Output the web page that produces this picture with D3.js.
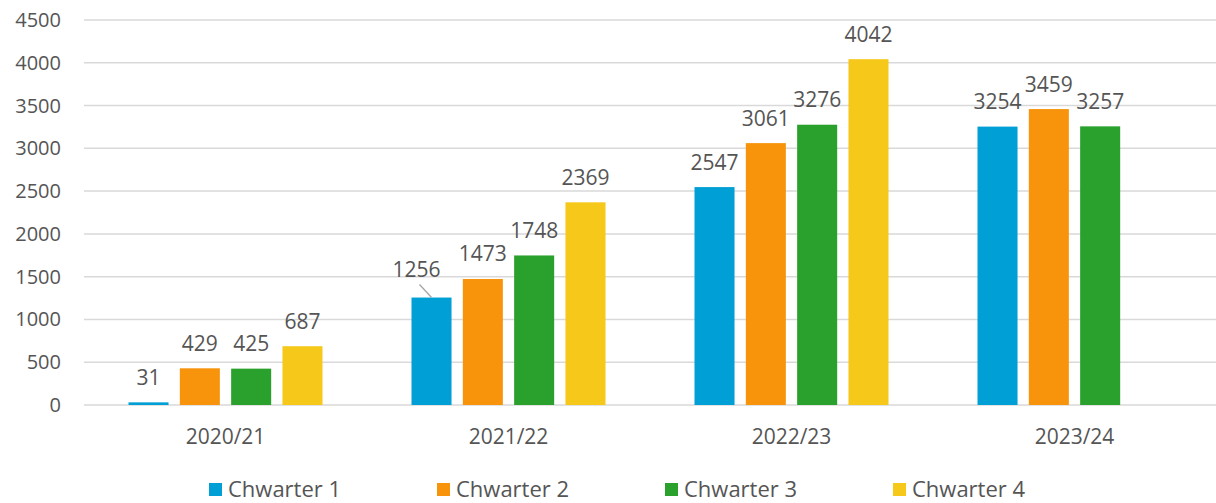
<!DOCTYPE html>
<html>
<head>
<meta charset="utf-8">
<script src="https://cdn.jsdelivr.net/npm/d3@7"></script>
<style>
  body { margin: 0; background: #fff; }
  svg text { font-family: "Open Sans", "Noto Sans", sans-serif; fill: #555555; }
</style>
</head>
<body>
<svg id="chart" width="1216" height="503"></svg>
<script>
const years = ['2020/21', '2021/22', '2022/23', '2023/24'];
const quarters = ['Chwarter 1', 'Chwarter 2', 'Chwarter 3', 'Chwarter 4'];
const q1 = [31, 1256, 2547, 3254];
const q2 = [429, 1473, 3061, 3459];
const q3 = [425, 1748, 3276, 3257];
const q4 = [687, 2369, 4042, null];
const yTicks = [0, 500, 1000, 1500, 2000, 2500, 3000, 3500, 4000, 4500];
const colours = ['#009fd6', '#f7940c', '#2aa12d', '#f6c81a'];

const series = [q1, q2, q3, q4];

const svg = d3.select('#chart');

const x = d3.scaleBand()
    .domain(years)
    .range([84, 1216]);

const x1 = d3.scaleBand()
    .domain(quarters)
    .range([-97, 97])
    .paddingInner(0.22);

const y = d3.scaleLinear()
    .domain([0, 4500])
    .range([405, 20]);

// gridlines
svg.append('g')
    .selectAll('line')
    .data(yTicks)
    .join('line')
    .attr('x1', 84)
    .attr('x2', 1216)
    .attr('y1', d => y(d))
    .attr('y2', d => y(d))
    .attr('stroke', '#d9d9d9')
    .attr('stroke-width', 1.5);

// y tick labels
svg.append('g')
    .selectAll('text')
    .data(yTicks)
    .join('text')
    .attr('x', 61)
    .attr('y', d => y(d) + 7)
    .attr('text-anchor', 'end')
    .style('font-size', '20px')
    .text(d => d);

// category labels
svg.append('g')
    .selectAll('text')
    .data(years)
    .join('text')
    .attr('x', d => x(d) + x.bandwidth() / 2)
    .attr('y', 444)
    .attr('text-anchor', 'middle')
    .style('font-size', '21px')
    .text(d => d);

// bars
let bars = [];
series.forEach((s, si) => {
    s.forEach((v, yi) => {
        if(v === null) return;
        bars.push({year: years[yi], quarter: quarters[si], value: v, colour: colours[si]});
    });
});

function barX(d) {
    return x(d.year) + x.bandwidth() / 2 + x1(d.quarter);
}

svg.append('g')
    .selectAll('rect')
    .data(bars)
    .join('rect')
    .attr('x', barX)
    .attr('y', d => y(d.value))
    .attr('width', x1.bandwidth())
    .attr('height', d => y(0) - y(d.value))
    .attr('fill', d => d.colour);

// value labels (1256 is nudged left with a leader line, as in the original)
const nudged = {year: '2021/22', quarter: 'Chwarter 1', dx: -15, dy: -3};

function isNudged(d) {
    return d.year === nudged.year && d.quarter === nudged.quarter;
}

svg.append('g')
    .selectAll('text')
    .data(bars)
    .join('text')
    .attr('x', d => barX(d) + x1.bandwidth() / 2 + (isNudged(d) ? nudged.dx : 0))
    .attr('y', d => y(d.value) - 17.5 + (isNudged(d) ? nudged.dy : 0))
    .attr('text-anchor', 'middle')
    .style('font-size', '21px')
    .text(d => d.value);

bars.filter(isNudged).forEach(d => {
    let cx = barX(d) + x1.bandwidth() / 2;
    svg.append('line')
        .attr('x1', cx - 12)
        .attr('y1', y(d.value) - 13)
        .attr('x2', cx)
        .attr('y2', y(d.value))
        .attr('stroke', '#a6a6a6')
        .attr('stroke-width', 1.3);
});

// legend
const legend = svg.append('g')
    .selectAll('g')
    .data(quarters)
    .join('g')
    .attr('transform', (d, i) => 'translate(' + (209 + i * 228) + ',483)');

legend.append('rect')
    .attr('width', 13)
    .attr('height', 13)
    .attr('fill', (d, i) => colours[i]);

legend.append('text')
    .attr('x', 19)
    .attr('y', 14)
    .style('font-size', '22px')
    .text(d => d);
</script>
</body>
</html>
